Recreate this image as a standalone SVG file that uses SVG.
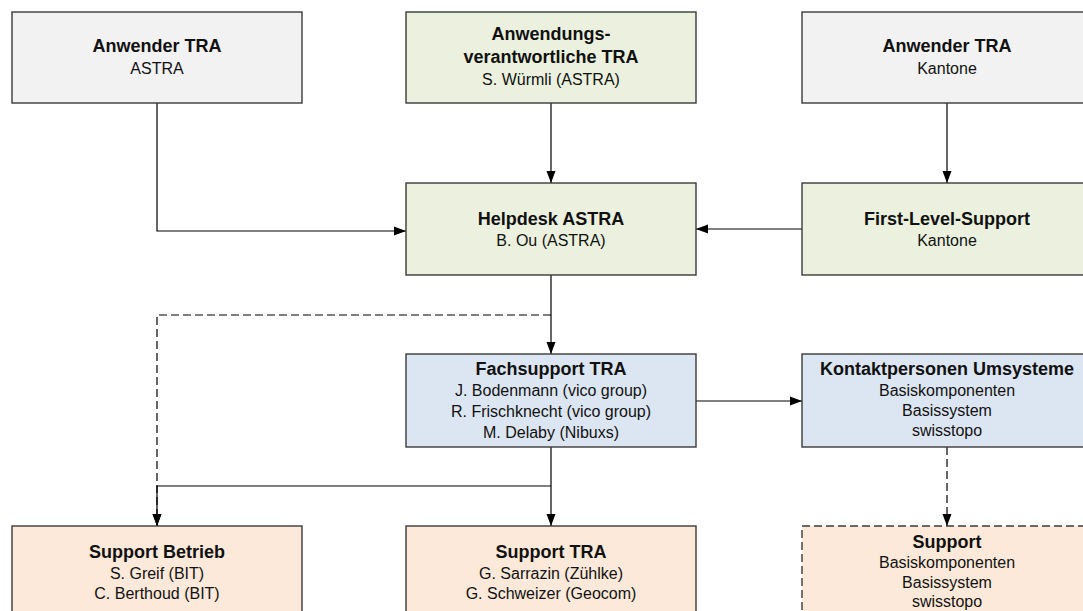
<svg xmlns="http://www.w3.org/2000/svg" width="1083" height="611" viewBox="0 0 1083 611">
<style>
.box{stroke:#3a3a3a;stroke-width:1.4}
.grey{fill:#f2f2f2}.green{fill:#ebf1de}.blue{fill:#dce6f2}.peach{fill:#fde9d9}
.dash{stroke-dasharray:8 4}
text{font-family:"Liberation Sans",Arial,sans-serif;fill:#111;text-anchor:middle}
.t{font-weight:bold;font-size:18px}
.s{font-size:16px}
.c{fill:none;stroke:#000;stroke-width:1.2}
</style>
<defs>
<marker id="ah" markerWidth="12" markerHeight="12" refX="12" refY="6" orient="auto" markerUnits="userSpaceOnUse">
<path d="M0,1.5 L12,6 L0,10.5 Z" fill="#000"/>
</marker>
</defs>
<rect width="1083" height="611" fill="#fff"/>
<g id="connectors">
<path class="c" d="M157,103 V231 H406" marker-end="url(#ah)"/>
<path class="c" d="M551,103 V183" marker-end="url(#ah)"/>
<path class="c" d="M947,103 V183" marker-end="url(#ah)"/>
<path class="c" d="M802,229 H696" marker-end="url(#ah)"/>
<path class="c" d="M551,275 V354" marker-end="url(#ah)"/>
<path class="c dash" d="M551,315 H157 V526" marker-end="url(#ah)"/>
<path class="c" d="M696,401 H802" marker-end="url(#ah)"/>
<path class="c" d="M551,447 V526" marker-end="url(#ah)"/>
<path class="c" d="M551,486 H157 V526" marker-end="url(#ah)"/>
<path class="c dash" d="M947,447 V526" marker-end="url(#ah)"/>
</g>
<g id="anwender-astra">
<rect class="box grey" x="12" y="12" width="290" height="91"/>
<text x="157" y="52" class="t">Anwender TRA</text>
<text x="157" y="74" class="s">ASTRA</text>
</g>
<g id="anwendungsverantwortliche">
<rect class="box green" x="406" y="12" width="290" height="91"/>
<text x="551" y="40" class="t">Anwendungs-</text>
<text x="551" y="63" class="t">verantwortliche TRA</text>
<text x="551" y="85" class="s">S. Würmli (ASTRA)</text>
</g>
<g id="anwender-kantone">
<rect class="box grey" x="802" y="12" width="290" height="91"/>
<text x="947" y="52" class="t">Anwender TRA</text>
<text x="947" y="74" class="s">Kantone</text>
</g>
<g id="helpdesk">
<rect class="box green" x="406" y="183" width="290" height="92"/>
<text x="551" y="225" class="t">Helpdesk ASTRA</text>
<text x="551" y="246" class="s">B. Ou (ASTRA)</text>
</g>
<g id="first-level">
<rect class="box green" x="802" y="183" width="290" height="92"/>
<text x="947" y="225" class="t">First-Level-Support</text>
<text x="947" y="246" class="s">Kantone</text>
</g>
<g id="fachsupport">
<rect class="box blue" x="406" y="354" width="290" height="93"/>
<text x="551" y="375" class="t">Fachsupport TRA</text>
<text x="551" y="396" class="s">J. Bodenmann (vico group)</text>
<text x="551" y="417" class="s">R. Frischknecht (vico group)</text>
<text x="551" y="438" class="s">M. Delaby (Nibuxs)</text>
</g>
<g id="kontaktpersonen">
<rect class="box blue" x="802" y="354" width="290" height="93"/>
<text x="947" y="375" class="t">Kontaktpersonen Umsysteme</text>
<text x="947" y="396" class="s">Basiskomponenten</text>
<text x="947" y="416" class="s">Basissystem</text>
<text x="947" y="436" class="s">swisstopo</text>
</g>
<g id="support-betrieb">
<rect class="box peach" x="12" y="526" width="290" height="100"/>
<text x="157" y="558" class="t">Support Betrieb</text>
<text x="157" y="579" class="s">S. Greif (BIT)</text>
<text x="157" y="599" class="s">C. Berthoud (BIT)</text>
</g>
<g id="support-tra">
<rect class="box peach" x="406" y="526" width="290" height="100"/>
<text x="551" y="558" class="t">Support TRA</text>
<text x="551" y="579" class="s">G. Sarrazin (Zühlke)</text>
<text x="551" y="599" class="s">G. Schweizer (Geocom)</text>
</g>
<g id="support-basis">
<rect class="box peach dash" x="802" y="526" width="290" height="100"/>
<text x="947" y="548" class="t">Support</text>
<text x="947" y="568" class="s">Basiskomponenten</text>
<text x="947" y="588" class="s">Basissystem</text>
<text x="947" y="607" class="s">swisstopo</text>
</g>
</svg>
